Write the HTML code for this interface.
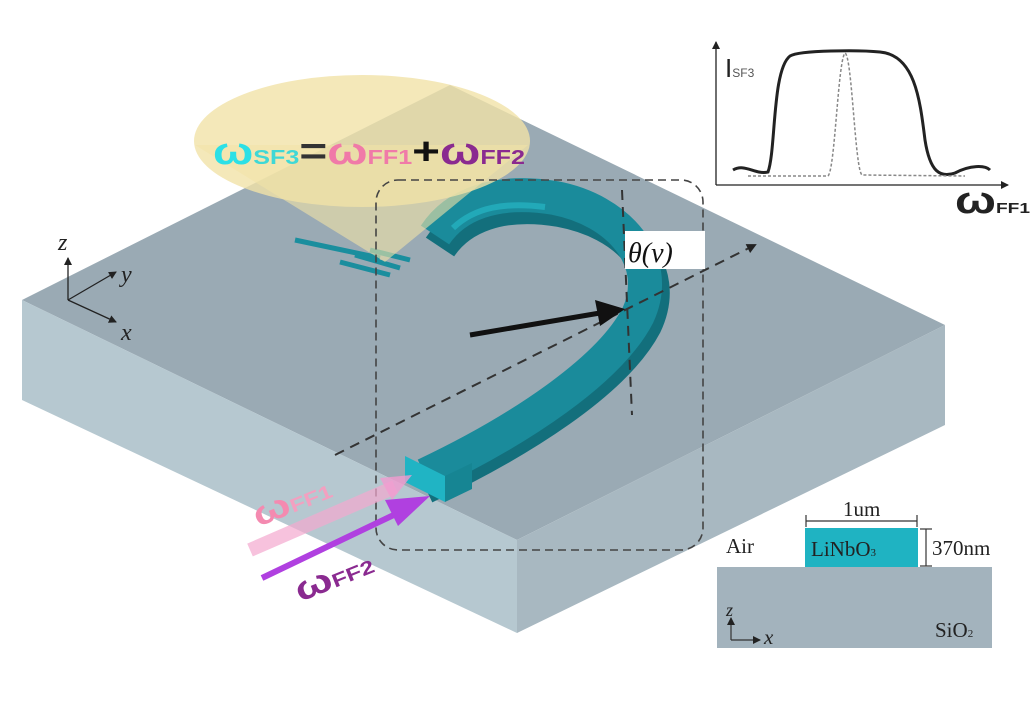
<!DOCTYPE html>
<html><head><meta charset="utf-8"><style>html,body{margin:0;padding:0;background:#fff}svg{display:block}</style></head><body>
<svg width="1036" height="712" viewBox="0 0 1036 712" xmlns="http://www.w3.org/2000/svg">
<defs>
<marker id="ah" markerWidth="10" markerHeight="10" refX="8" refY="5" orient="auto" markerUnits="userSpaceOnUse"><path d="M0,0 L10,5 L0,10 Z" fill="#222"/></marker>
<marker id="sa" markerWidth="8" markerHeight="8" refX="7" refY="4" orient="auto" markerUnits="userSpaceOnUse"><path d="M0,0 L8,4 L0,8 Z" fill="#222"/></marker>
</defs>
<!-- slab -->
<polygon points="22,300 450,85 945,325 517,540" fill="#9aaab4"/>
<polygon points="22,300 517,540 517,633 22,400" fill="#b6c8d0"/>
<polygon points="517,540 945,325 945,425 517,633" fill="#a8b8c1"/>
<!-- grating -->
<g stroke="#1a8e9e" stroke-width="5">
<line x1="295" y1="240" x2="380" y2="258"/><line x1="340" y1="262" x2="390" y2="275"/><line x1="355" y1="255" x2="400" y2="268"/><line x1="370" y1="250" x2="410" y2="260"/>
</g>
<!-- waveguide -->
<path d="M425,487 C520,442 615,382 645,325 C672,268 625,222 560,210 C500,200 460,217 440,247" fill="none" stroke="#136f7c" stroke-width="34"/>
<path d="M425,475 C520,430 610,370 638,315 C663,260 618,210 555,198 C495,188 455,205 435,235" fill="none" stroke="#1a8b9b" stroke-width="34"/>
<path d="M453,228 C475,207 505,202 545,207" fill="none" stroke="#22a9b8" stroke-width="6"/>
<polygon points="405,456 445,476 445,502 405,482" fill="#20b4c4"/>
<polygon points="445,476 472,463 472,489 445,502" fill="#168593"/>
<!-- cone -->
<path d="M195,145 L385,262 L528,145 Z" fill="#f2e3a6" opacity="0.6"/>
<ellipse cx="362" cy="141" rx="168" ry="66" fill="#f1e2a8" opacity="0.8"/>
<!-- equation -->
<text x="213" y="164" textLength="312" lengthAdjust="spacingAndGlyphs" font-family="Liberation Sans, sans-serif" font-weight="bold" font-size="38" fill="#2ce0e6">ω<tspan font-size="20" fill="#3fd8d6">SF3</tspan><tspan fill="#333">=</tspan><tspan fill="#f07aa8">ω</tspan><tspan font-size="20" fill="#f07aa8">FF1</tspan><tspan fill="#111">+</tspan><tspan fill="#8a2a90">ω</tspan><tspan font-size="20" fill="#8a2a90">FF2</tspan></text>
<!-- dashed box -->
<rect x="376" y="180" width="327" height="370" rx="22" fill="none" stroke="#444" stroke-width="1.6" stroke-dasharray="8,5"/>
<line x1="335" y1="455" x2="755" y2="245" stroke="#333" stroke-width="2" stroke-dasharray="10,7" marker-end="url(#ah)"/>
<line x1="622" y1="190" x2="632" y2="415" stroke="#333" stroke-width="2" stroke-dasharray="10,7"/>
<line x1="470" y1="335" x2="600" y2="313" stroke="#111" stroke-width="5"/>
<polygon points="625,309 595,300 600,326" fill="#111"/>
<rect x="625" y="231" width="80" height="38" fill="#fff"/>
<text x="628" y="262" font-family="Liberation Serif, serif" font-style="italic" font-size="28" fill="#111">θ(v)</text>
<!-- axes left -->
<g stroke="#222" stroke-width="1.3" fill="none">
<line x1="68" y1="300" x2="68" y2="258" marker-end="url(#sa)"/>
<line x1="68" y1="300" x2="116" y2="272" marker-end="url(#sa)"/>
<line x1="68" y1="300" x2="116" y2="322" marker-end="url(#sa)"/>
</g>
<g font-family="Liberation Serif, serif" font-style="italic" font-size="24" fill="#222">
<text x="58" y="250">z</text><text x="121" y="282">y</text><text x="121" y="340">x</text></g>
<!-- FF arrows -->
<path d="M250,550 L395,487" stroke="#f4a9cf" stroke-width="14" opacity="0.7"/>
<polygon points="380,478 412,475 392,500" fill="#f19bd0" opacity="0.8"/>
<path d="M262,578 L400,512" stroke="#b040e0" stroke-width="6"/>
<polygon points="385,500 430,496 398,526" fill="#b040e0"/>
<text transform="translate(258,527) rotate(-22)" textLength="82" lengthAdjust="spacingAndGlyphs" font-family="Liberation Sans, sans-serif" font-weight="bold" font-size="34" fill="#f48ab0">ω<tspan font-size="19" fill="#f3a0c0">FF1</tspan></text>
<text transform="translate(300,602) rotate(-22)" textLength="82" lengthAdjust="spacingAndGlyphs" font-family="Liberation Sans, sans-serif" font-weight="bold" font-size="34" fill="#8a2a90">ω<tspan font-size="19">FF2</tspan></text>
<!-- inset plot -->
<g stroke="#222" stroke-width="1.3" fill="none">
<line x1="716" y1="185" x2="716" y2="42" marker-end="url(#sa)"/>
<line x1="716" y1="185" x2="1008" y2="185" marker-end="url(#sa)"/>
</g>
<path d="M733,170 C745,163 755,175 768,172 C776,150 772,70 790,56 C800,50 860,50 880,52 C915,55 920,100 925,140 C930,172 940,178 955,173 C970,165 985,165 990,170" fill="none" stroke="#222" stroke-width="3"/>
<path d="M748,176 L828,176 C835,170 838,60 845,53 C852,55 855,170 862,175 L965,176" fill="none" stroke="#888" stroke-width="1.5" stroke-dasharray="3,2"/>
<text x="725" y="77" font-family="Liberation Sans, sans-serif" font-size="26" fill="#222">I<tspan font-size="12" fill="#555">SF3</tspan></text>
<text x="955" y="213" textLength="75" lengthAdjust="spacingAndGlyphs" font-family="Liberation Sans, sans-serif" font-weight="bold" font-size="38" fill="#222">ω<tspan font-size="15">FF1</tspan></text>
<!-- cross section -->
<rect x="717" y="567" width="275" height="81" fill="#a3b3bd"/>
<rect x="805" y="528" width="113" height="39" fill="#1fb3c2"/>
<g stroke="#333" stroke-width="1.2">
<line x1="806" y1="521" x2="917" y2="521"/><line x1="806" y1="515" x2="806" y2="527"/><line x1="917" y1="515" x2="917" y2="527"/>
<line x1="926" y1="529" x2="926" y2="566"/><line x1="920" y1="529" x2="932" y2="529"/><line x1="920" y1="566" x2="932" y2="566"/>
<line x1="731" y1="640" x2="731" y2="618" marker-end="url(#sa)"/><line x1="731" y1="640" x2="760" y2="640" marker-end="url(#sa)"/>
</g>
<g font-family="Liberation Serif, serif" font-size="21" fill="#222">
<text x="843" y="516">1um</text>
<text x="811" y="556">LiNbO<tspan font-size="11">3</tspan></text>
<text x="932" y="555">370nm</text>
<text x="726" y="553">Air</text>
<text x="935" y="637">SiO<tspan font-size="11">2</tspan></text>
<text x="726" y="616" font-style="italic" font-size="18">z</text>
<text x="764" y="644" font-style="italic">x</text>
</g>
</svg>
</body></html>
